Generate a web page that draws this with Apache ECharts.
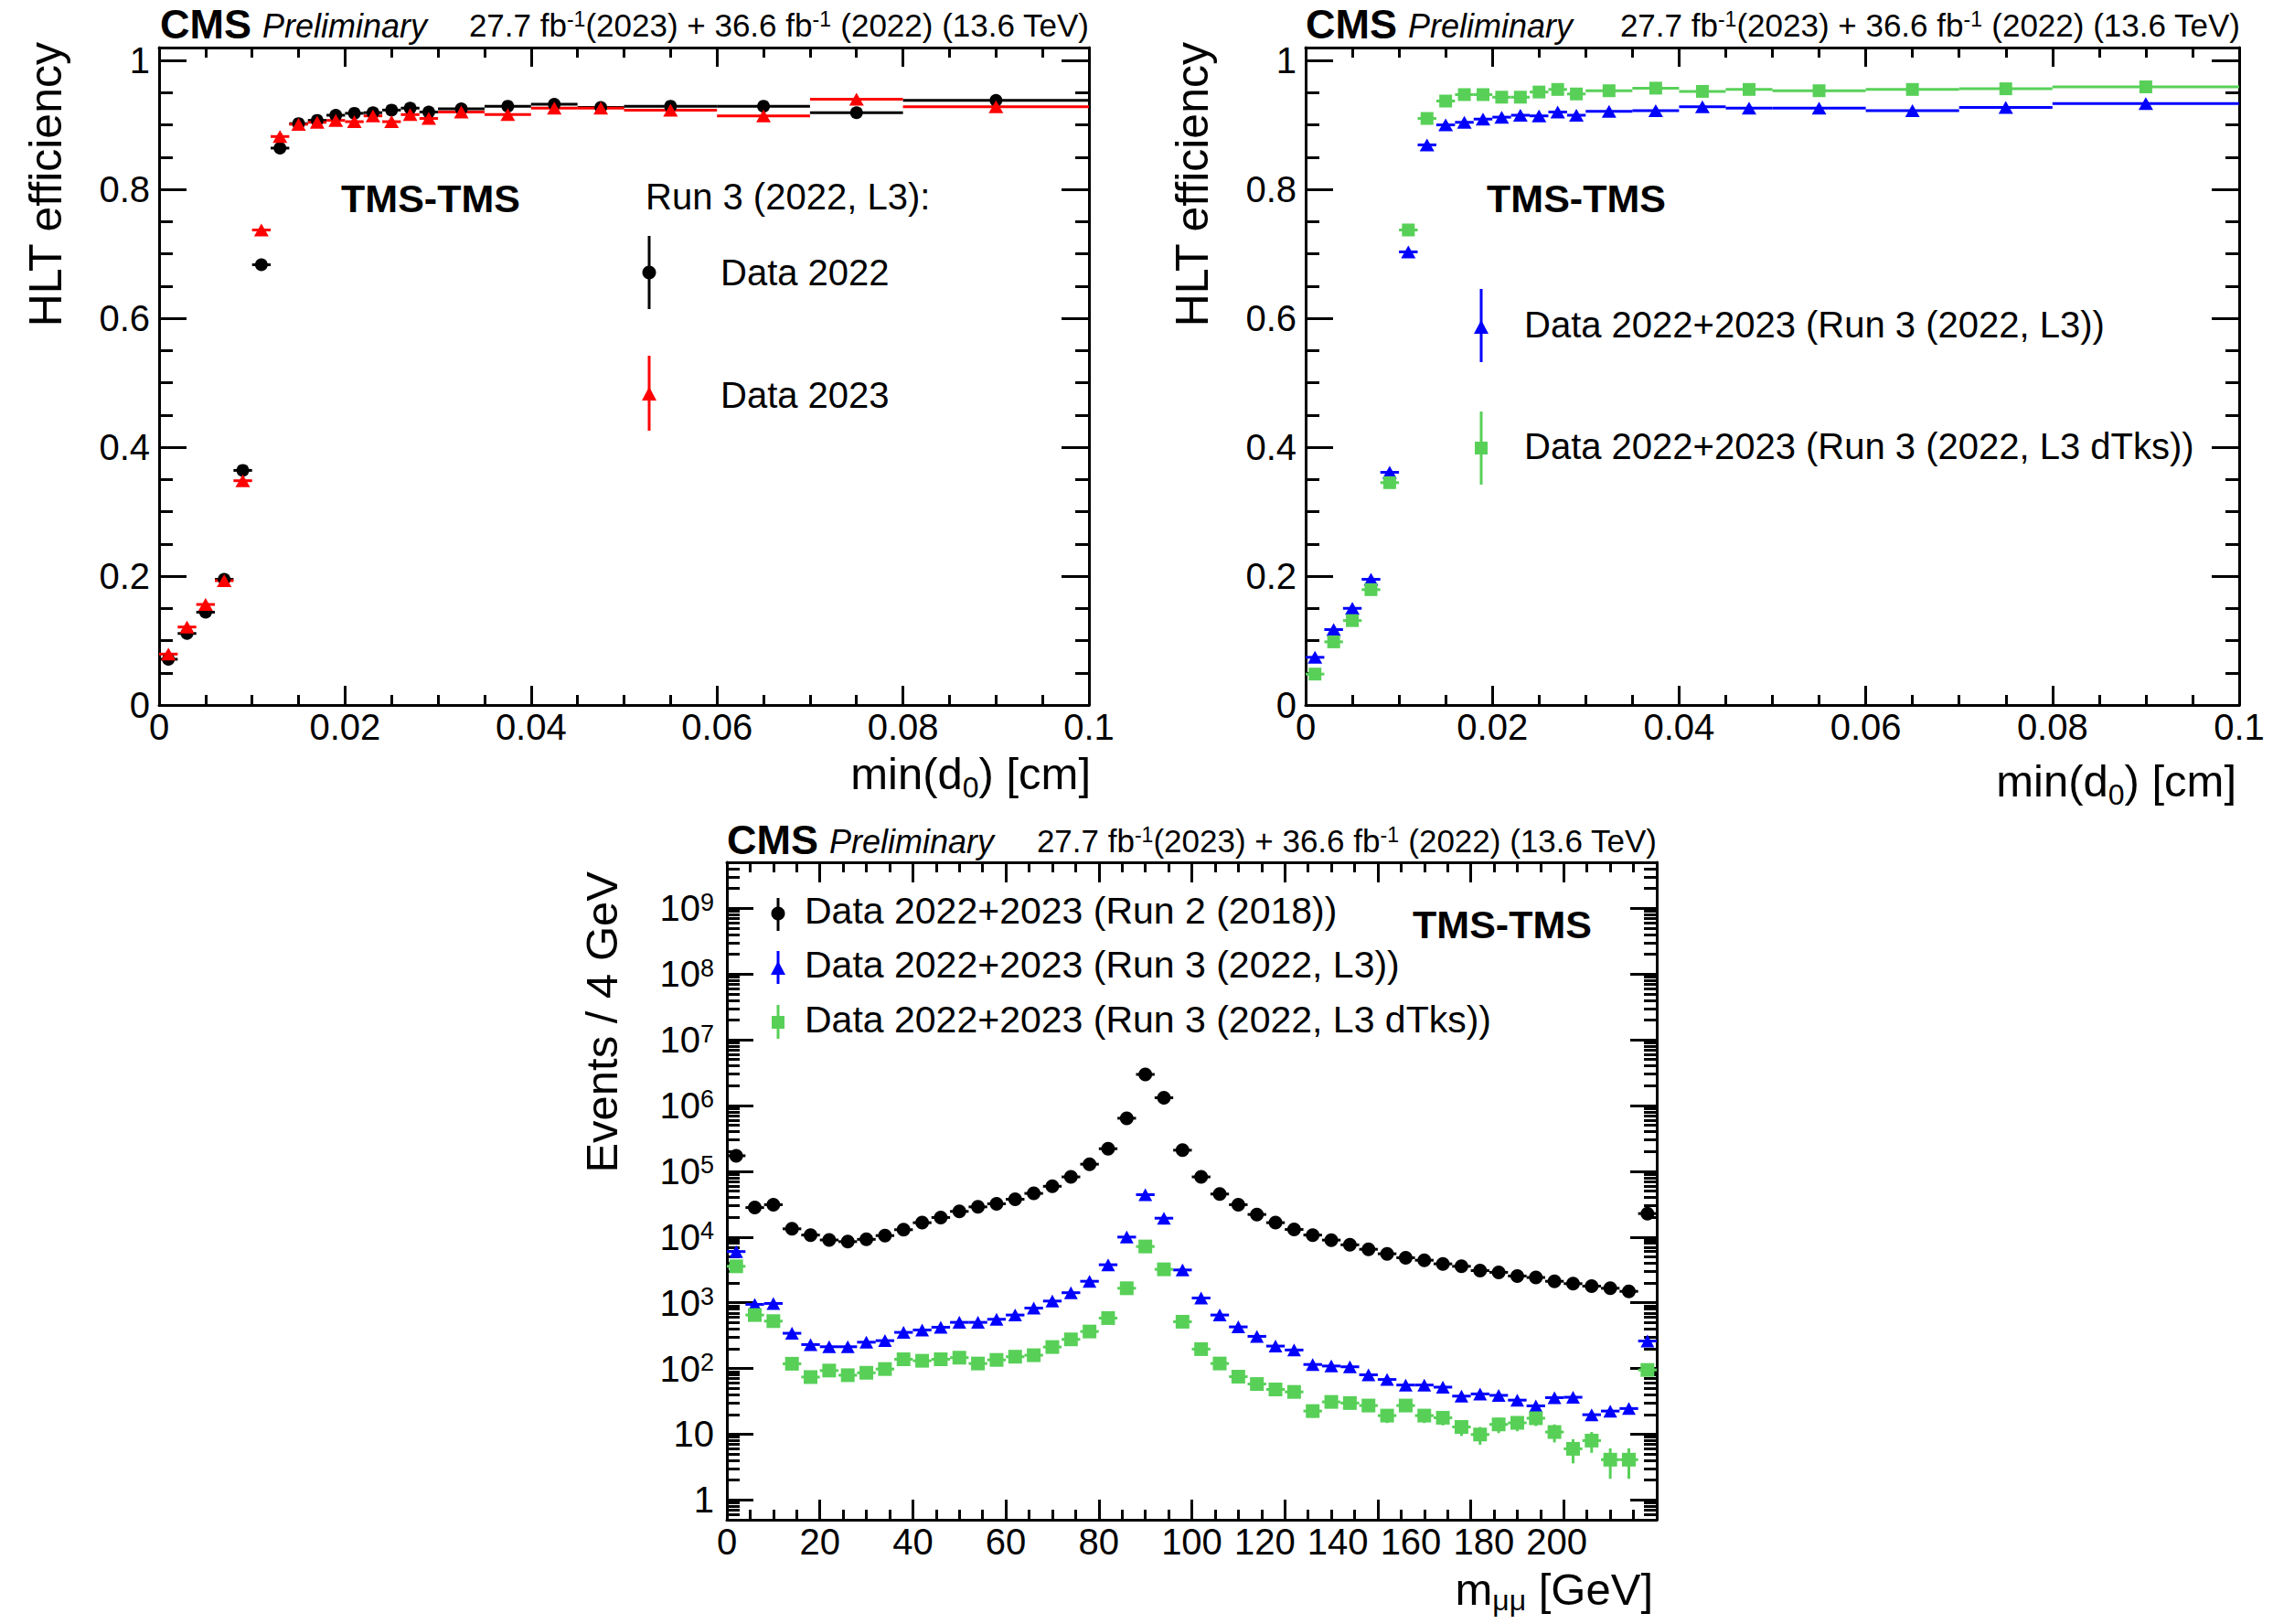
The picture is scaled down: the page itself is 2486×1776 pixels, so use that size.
<!DOCTYPE html>
<html><head><meta charset="utf-8">
<script src="https://cdn.jsdelivr.net/npm/echarts@6/dist/echarts.min.js"></script>
<style>html,body{margin:0;padding:0;background:#fff}#c{width:2486px;height:1776px}</style>
</head><body><div id="c"></div>
<script>
// ---------- data: HLT efficiency vs min(d0) ----------
const d0Edges = [0,0.002,0.004,0.006,0.008,0.010,0.012,0.014,0.016,0.018,0.020,0.022,0.024,0.026,0.028,0.030,0.035,0.040,0.045,0.050,0.060,0.070,0.080,0.100];
const effData2022 = [0.071,0.111,0.144,0.195,0.364,0.683,0.864,0.902,0.907,0.915,0.918,0.919,0.923,0.926,0.920,0.925,0.929,0.932,0.927,0.929,0.929,0.919,0.938];
const effData2023 = [0.079,0.121,0.156,0.193,0.348,0.737,0.882,0.901,0.904,0.907,0.905,0.914,0.905,0.916,0.910,0.920,0.916,0.926,0.926,0.923,0.914,0.940,0.928];
const effL3 = [0.074,0.117,0.150,0.195,0.361,0.703,0.869,0.900,0.904,0.909,0.912,0.915,0.914,0.920,0.915,0.921,0.922,0.928,0.926,0.926,0.922,0.927,0.933];
const effL3dTks = [0.048,0.098,0.131,0.179,0.345,0.737,0.910,0.937,0.947,0.947,0.943,0.943,0.951,0.955,0.948,0.953,0.957,0.952,0.955,0.953,0.955,0.956,0.959];
const effTickLabels = [0,0.2,0.4,0.6,0.8,1];

// ---------- data: m_mumu spectrum ----------
const massBinWidth = 4;
const massCenters = [2,6,10,14,18,22,26,30,34,38,42,46,50,54,58,62,66,70,74,78,82,86,90,94,98,102,106,110,114,118,122,126,130,134,138,142,146,150,154,158,162,166,170,174,178,182,186,190,194,198];
const evRun2 = [1.72e5,2.8e4,3.1e4,1.33e4,1.07e4,9.0e3,8.5e3,9.2e3,1.05e4,1.29e4,1.65e4,1.98e4,2.45e4,2.87e4,3.2e4,3.75e4,4.6e4,5.9e4,8.2e4,1.28e5,2.2e5,6.4e5,2.97e6,1.31e6,2.09e5,8.2e4,4.5e4,3.1e4,2.2e4,1.65e4,1.3e4,1.07e4,8.97e3,7.6e3,6.5e3,5.55e3,4.83e3,4.43e3,3.9e3,3.58e3,3.08e3,2.9e3,2.55e3,2.42e3,2.12e3,1.95e3,1.79e3,1.66e3,1.49e3,2.27e4];
const evL3 = [6.0e3,944,975,343,231,214,214,251,265,354,385,424,503,503,560,650,830,1060,1420,2120,3780,9970,4.4e4,1.93e4,3150,1180,650,429,308,219,191,115,109,106,80,68,56,56,52,38,41,39,33,27,36,36.5,19.8,22.5,24.6,262];
const evL3dTks = [3580,650,525,118,74,93,79,86,98,138,131,138,146,119,135,151,159,212,277,365,584,1660,7170,3220,514,197,119,75,58,48,44,22.5,31,29.8,27.3,19.2,27.3,19.2,17.8,12.9,9.9,14.1,14.9,17.5,10.8,6.0,8.0,4.1,4.1,95];
const errL3dTks = [0,0,0,0,0,0,0,0,0,0,0,0,0,0,0,0,0,0,0,0,0,0,0,0,0,0,0,8,7,7,6.5,4.7,5.5,5.5,5.2,4.4,5.2,4.4,4.2,3.5,3,3.7,3.8,4.2,3.3,2.4,2.8,2,2,9.5];
const massTickLabels = ['0','20','40','60','80','100','120','140','160','180','200'];
const decades = [1,10,100,1e3,1e4,1e5,1e6,1e7,1e8,1e9];

// ---------- layout ----------
const FONT = '"Liberation Sans", Arial, Helvetica, sans-serif';
const massLabelPos = [0,20,40,60,80,100,115.7,131.4,147.1,162.8,178.5];
const tickStyle = {color:'#000', width:3};

const effMinor = [];
for (let k = 1; k < 20; k++) if (k % 4 !== 0) effMinor.push(+(k*0.05).toFixed(2));
const logMinor = [];
for (let e = -1; e <= 9; e++) for (let m = 2; m <= 9; m++) { const v = m*Math.pow(10,e); if (v >= 0.5 && v <= 5e9) logMinor.push(v); }

function xAx(g, pos, min, max, interval, label, majLen, extraLabel) {
  return {type:'value', gridIndex:g, position:pos, min, max, interval,
    axisLine:{show:true, onZero:false, lineStyle:tickStyle},
    splitLine:{show:false},
    axisTick:{show:true, inside:true, length:majLen, lineStyle:tickStyle},
    minorTick:{show:true, splitNumber:4, length:11, lineStyle:tickStyle},
    axisLabel:Object.assign({show:label, fontSize:40, lineHeight:40, color:'#000', fontFamily:FONT, margin:4}, extraLabel||{})};
}
function yEff(g, pos, vals, len, label, line) {
  return {type:'value', gridIndex:g, position:pos, min:0, max:1.02,
    axisLine:{show:line, onZero:false, lineStyle:tickStyle},
    splitLine:{show:false},
    axisTick:{show:true, inside:true, length:len, customValues:vals, lineStyle:tickStyle},
    axisLabel:{show:label, customValues:vals, fontSize:40, color:'#000', fontFamily:FONT, margin:10}};
}
function yLog(g, pos, vals, len, label, line) {
  return {type:'log', logBase:10, gridIndex:g, position:pos, min:0.5, max:5e9,
    axisLine:{show:line, onZero:false, lineStyle:tickStyle},
    splitLine:{show:false},
    axisTick:{show:true, inside:true, length:len, customValues:vals, lineStyle:tickStyle},
    axisLabel:{show:label, customValues:vals, fontSize:40, color:'#000', fontFamily:FONT, margin:14,
      formatter: v => { const e = Math.round(Math.log10(v)); if (e === 0) return '1'; if (e === 1) return '10'; return '10{s|' + e + '}'; },
      rich:{s:{fontSize:27, fontFamily:FONT, color:'#000', verticalAlign:'top'}}}};
}

function binRows(edges, vals) {
  return vals.map((v,i) => [(edges[i]+edges[i+1])/2, v, edges[i], edges[i+1]]);
}
function massRows(vals) {
  return vals.map((v,i) => [massCenters[i], v, massCenters[i]-massBinWidth/2, massCenters[i]+massBinWidth/2]);
}
function hbar(xi, yi, data, color) {
  return {type:'custom', xAxisIndex:xi, yAxisIndex:yi, silent:true, z:2, data,
    encode:{x:0, y:1},
    renderItem:(p, api) => {
      const a = api.coord([api.value(2), api.value(1)]);
      const b = api.coord([api.value(3), api.value(1)]);
      return {type:'line', shape:{x1:a[0], y1:a[1], x2:b[0], y2:b[1]}, style:{stroke:color, lineWidth:3}};
    }};
}
function vbar(xi, yi, data, color) {
  return {type:'custom', xAxisIndex:xi, yAxisIndex:yi, silent:true, z:2, data,
    encode:{x:0, y:1},
    renderItem:(p, api) => {
      if (api.value(2) <= 0) return null;
      const a = api.coord([api.value(0), api.value(1) - api.value(2)]);
      const b = api.coord([api.value(0), api.value(1) + api.value(2)]);
      return {type:'line', shape:{x1:a[0], y1:a[1], x2:b[0], y2:b[1]}, style:{stroke:color, lineWidth:3}};
    }};
}
function pts(xi, yi, data, symbol, size, color) {
  return {type:'scatter', xAxisIndex:xi, yAxisIndex:yi, silent:true, z:3, symbol, symbolSize:size,
    itemStyle:{color, opacity:1}, data:data.map(r => [r[0], r[1]])};
}

const RED = '#ff0000', BLUE = '#0000ff', GREEN = '#58d058', BLACK = '#000000';

const tl2022 = binRows(d0Edges, effData2022), tl2023 = binRows(d0Edges, effData2023);
const trL3 = binRows(d0Edges, effL3), trDT = binRows(d0Edges, effL3dTks);
const bR2 = massRows(evRun2), bL3 = massRows(evL3), bDT = massRows(evL3dTks);
const bDTerr = evL3dTks.map((v,i) => [massCenters[i], v, errL3dTks[i]]);

// graphic helpers
function txt(x, y, text, o) {
  o = o || {};
  return {type:'text', x, y, rotation:o.rot||0, z:100, silent:true,
    style:{text, fill:'#000', fontFamily:FONT, fontSize:o.size||40, fontWeight:o.weight||'normal', fontStyle:o.style||'normal',
      align:o.align||'left', verticalAlign:'middle', rich:o.rich}};
}
function vline(x, y1, y2, color) {
  return {type:'line', z:100, silent:true, shape:{x1:x, y1, x2:x, y2}, style:{stroke:color, lineWidth:3}};
}
function circ(x, y, color) { return {type:'circle', z:100, silent:true, shape:{cx:x, cy:y, r:7.5}, style:{fill:color}}; }
function tri(x, y, color) { return {type:'polygon', z:100, silent:true, shape:{points:[[x,y-8],[x-8,y+7],[x+8,y+7]]}, style:{fill:color}}; }
function sq(x, y, color) { return {type:'rect', z:100, silent:true, shape:{x:x-7, y:y-7, width:14, height:14}, style:{fill:color}}; }

const lumiRich = {n:{fontSize:35, fontFamily:FONT, color:'#000'}, s:{fontSize:23, fontFamily:FONT, color:'#000', verticalAlign:'top'}};
const lumiText = '{n|27.7 fb}{s|-1}{n|(2023) + 36.6 fb}{s|-1}{n| (2022) (13.6 TeV)}';
const subRich = {n:{fontSize:49, lineHeight:44, fontFamily:FONT, color:'#000', verticalAlign:'middle'},
                 b:{fontSize:32, lineHeight:24, padding:[30,0,0,0], fontFamily:FONT, color:'#000', verticalAlign:'middle'}};
const subRichM = {n:{fontSize:49, lineHeight:44, fontFamily:FONT, color:'#000', verticalAlign:'middle'},
                  b:{fontSize:32, lineHeight:20, padding:[24,0,0,0], fontFamily:FONT, color:'#000', verticalAlign:'middle'}};

function header(xl, xr, y) {
  return [
    txt(xl, y, 'CMS', {size:45, weight:'bold'}),
    txt(xl + 112, y + 2, 'Preliminary', {size:36, style:'italic'}),
    txt(xr, y + 1, lumiText, {align:'right', rich:lumiRich})
  ];
}

const graphics = [].concat(
  header(175, 1191, 26),
  header(1428, 2450, 26),
  header(795, 1812, 918),
  [
    txt(50, 46, 'HLT efficiency', {size:50, rot:Math.PI/2, align:'right'}),
    txt(1304, 46, 'HLT efficiency', {size:50, rot:Math.PI/2, align:'right'}),
    txt(1193, 846, '{n|min(d}{b|0}{n|) [cm]}', {align:'right', rich:subRich}),
    txt(2446, 854, '{n|min(d}{b|0}{n|) [cm]}', {align:'right', rich:subRich}),
    txt(658, 953, 'Events / 4 GeV', {size:49, rot:Math.PI/2, align:'right'}),
    txt(1808, 1738, '{n|m}{b|μμ}{n| [GeV]}', {align:'right', rich:subRichM}),
    txt(471, 217, 'TMS-TMS', {size:43, weight:'bold', align:'center'}),
    txt(1724, 217, 'TMS-TMS', {size:43, weight:'bold', align:'center'}),
    txt(1643, 1011, 'TMS-TMS', {size:43, weight:'bold', align:'center'}),
    // top-left legend
    txt(706, 215, 'Run 3 (2022, L3):'),
    vline(710, 258, 338, BLACK), circ(710, 298, BLACK), txt(788, 298, 'Data 2022'),
    vline(710, 389, 471, RED), tri(710, 431, RED), txt(788, 432, 'Data 2023'),
    // top-right legend
    vline(1620, 316, 396, BLUE), tri(1620, 358, BLUE), txt(1667, 355, 'Data 2022+2023 (Run 3 (2022, L3))'),
    vline(1620, 450, 530, GREEN), sq(1620, 490, GREEN), txt(1667, 488, 'Data 2022+2023 (Run 3 (2022, L3 dTks))'),
    // bottom legend
    vline(851, 982, 1018, BLACK), circ(851, 999, BLACK), txt(880, 996, 'Data 2022+2023 (Run 2 (2018))', {size:41}),
    vline(851, 1040, 1076, BLUE), tri(851, 1059, BLUE), txt(880, 1055, 'Data 2022+2023 (Run 3 (2022, L3))', {size:41}),
    vline(851, 1099, 1136, GREEN), sq(851, 1118, GREEN), txt(880, 1115, 'Data 2022+2023 (Run 3 (2022, L3 dTks))', {size:41})
  ]
);

const option = {
  animation:false,
  backgroundColor:'#ffffff',
  grid:[
    {left:174, top:52, width:1017, height:719},
    {left:1428, top:52, width:1021, height:719},
    {left:795, top:943, width:1017, height:719}
  ],
  xAxis:[
    xAx(0,'bottom',0,0.1,0.02,true,21),
    xAx(0,'top',0,0.1,0.02,false,21),
    xAx(1,'bottom',0,0.1,0.02,true,21),
    xAx(1,'top',0,0.1,0.02,false,21),
    xAx(2,'bottom',0,200,20,true,22,{customValues:massLabelPos, margin:4,
      formatter:v => { let bi = 0; massLabelPos.forEach((p,i) => { if (Math.abs(p-v) < Math.abs(massLabelPos[bi]-v)) bi = i; }); return massTickLabels[bi]; }}),
    xAx(2,'top',0,200,20,false,22)
  ],
  yAxis:[
    yEff(0,'left',effTickLabels,30,true,true),
    yEff(0,'left',effMinor,15,false,false),
    yEff(0,'right',effTickLabels,30,false,true),
    yEff(0,'right',effMinor,15,false,false),
    yEff(1,'left',effTickLabels,30,true,true),
    yEff(1,'left',effMinor,15,false,false),
    yEff(1,'right',effTickLabels,30,false,true),
    yEff(1,'right',effMinor,15,false,false),
    yLog(2,'left',decades,29,true,true),
    yLog(2,'left',logMinor,14,false,false),
    yLog(2,'right',decades,29,false,true),
    yLog(2,'right',logMinor,14,false,false)
  ],
  series:[
    hbar(0,0,tl2022,BLACK), pts(0,0,tl2022,'circle',14,BLACK),
    hbar(0,0,tl2023,RED), pts(0,0,tl2023,'triangle',[16,14],RED),
    hbar(2,4,trL3,BLUE), pts(2,4,trL3,'triangle',[16,14],BLUE),
    hbar(2,4,trDT,GREEN), pts(2,4,trDT,'rect',14,GREEN),
    hbar(4,8,bR2,BLACK), pts(4,8,bR2,'circle',15,BLACK),
    hbar(4,8,bL3,BLUE), pts(4,8,bL3,'triangle',[15,14],BLUE),
    hbar(4,8,bDT,GREEN), vbar(4,8,bDTerr,GREEN), pts(4,8,bDT,'rect',15,GREEN)
  ],
  graphic:graphics
};
const chart = echarts.init(document.getElementById('c'), null, {renderer:'svg'});
chart.setOption(option);
</script></body></html>
